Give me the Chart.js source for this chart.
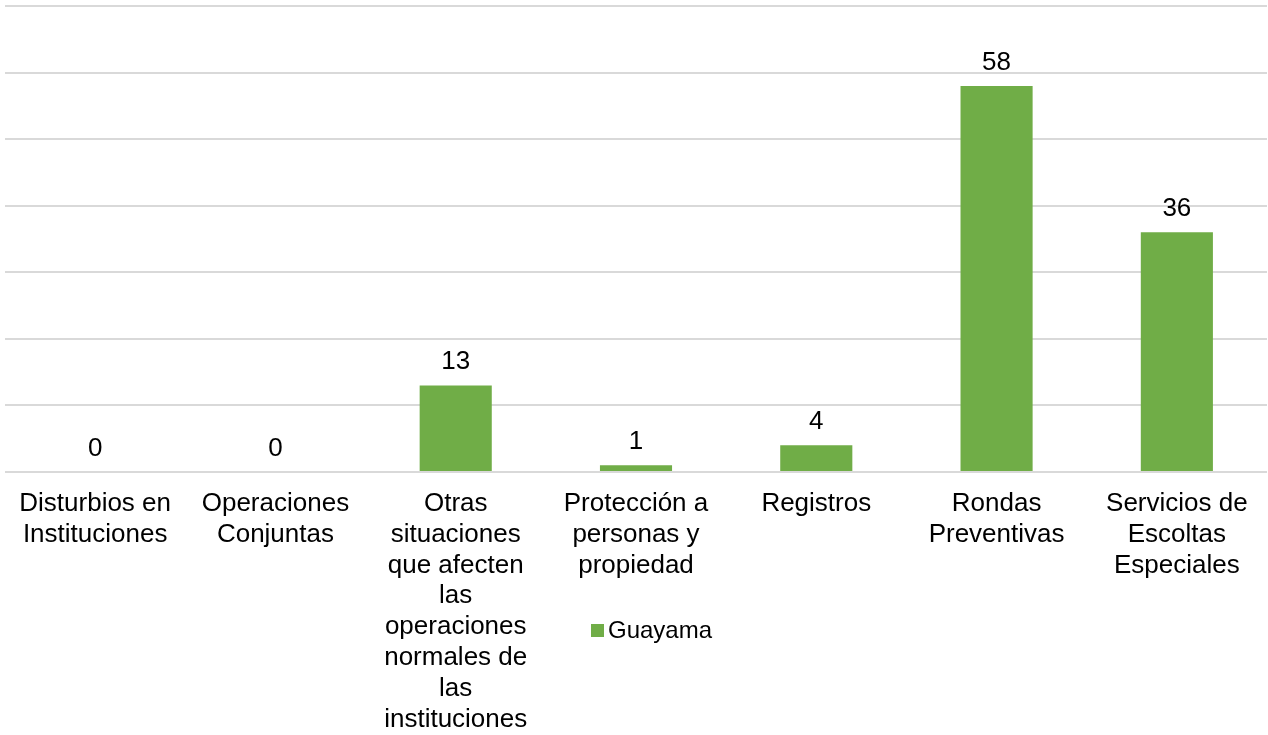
<!DOCTYPE html>
<html>
<head>
<meta charset="utf-8">
<script src="https://cdn.jsdelivr.net/npm/chart.js@4/dist/chart.umd.min.js"></script>
<style>
    html, body { margin: 0; padding: 0; background: #fff; }
    .wrap { position: relative; width: 1268px; height: 735px; }
    .legend {
        position: absolute; left: 591px; top: 616px;
        font: 24px "Liberation Sans", Arial, sans-serif; color: #000;
        display: flex; align-items: center; line-height: 28px;
    }
    .legend span.box { display: inline-block; width: 13px; height: 13px; background: #70ad47; margin-right: 4px; }
</style>
</head>
<body>
<div class="wrap">
    <canvas id="chart" width="1268" height="735"></canvas>
    <div class="legend"><span class="box"></span>Guayama</div>
</div>
<script>
const categories = [
    ['Disturbios en', 'Instituciones'],
    ['Operaciones', 'Conjuntas'],
    ['Otras', 'situaciones', 'que afecten', 'las', 'operaciones', 'normales de', 'las', 'instituciones'],
    ['Protección a', 'personas y', 'propiedad'],
    ['Registros'],
    ['Rondas', 'Preventivas'],
    ['Servicios de', 'Escoltas', 'Especiales']
];
const seriesName = 'Guayama';
const guayama = [0, 0, 13, 1, 4, 58, 36];
const yMax = 70;
const yStep = 10;

// value labels above each bar
const valueLabels = {
    id: 'valueLabels',
    afterDatasetsDraw(chart) {
        const ctx = chart.ctx;
        ctx.save();
        ctx.font = '26px "Liberation Sans", Arial, sans-serif';
        ctx.fillStyle = '#000';
        ctx.textAlign = 'center';
        ctx.textBaseline = 'alphabetic';
        chart.getDatasetMeta(0).data.forEach((bar, i) => {
            ctx.fillText(String(guayama[i]), bar.x, bar.y - 16);
        });
        ctx.restore();
    }
};

new Chart(document.getElementById('chart').getContext('2d'), {
    type: 'bar',
    data: {
        labels: categories,
        datasets: [{
            label: seriesName,
            data: guayama,
            backgroundColor: '#70ad47',
            categoryPercentage: 1,
            barPercentage: 0.4
        }]
    },
    options: {
        responsive: false,
        animation: false,
        layout: { padding: { left: 5, right: 1, top: 6, bottom: 0 } },
        plugins: {
            legend: { display: false },
            tooltip: { enabled: false }
        },
        scales: {
            x: {
                grid: { display: false, drawTicks: false },
                border: { display: false },
                afterFit(scale) { scale.height = 263; },
                ticks: {
                    color: '#000',
                    maxRotation: 0,
                    autoSkip: false,
                    padding: 16,
                    font: { family: '"Liberation Sans", Arial, sans-serif', size: 26, lineHeight: 1.19 }
                }
            },
            y: {
                min: 0,
                max: yMax,
                border: { display: false },
                grid: { color: '#d9d9d9', lineWidth: 2, drawTicks: false },
                ticks: { display: false, stepSize: yStep }
            }
        }
    },
    plugins: [valueLabels]
});
</script>
</body>
</html>
